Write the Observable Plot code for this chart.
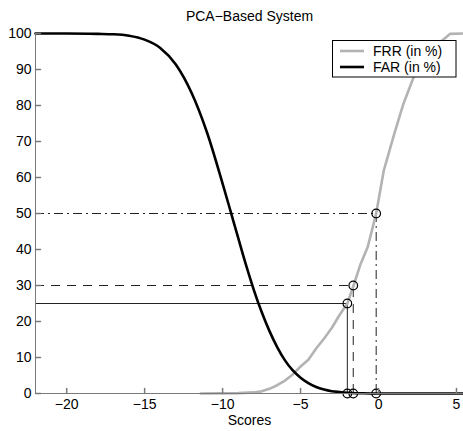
<!DOCTYPE html>
<html><head><meta charset="utf-8">
<script src="https://cdn.jsdelivr.net/npm/d3@7"></script>
<script src="https://cdn.jsdelivr.net/npm/@observablehq/plot@0.6"></script>
<style>
body{margin:0;background:#fff}
svg{font-family:"Liberation Sans",Arial,Helvetica,sans-serif}
</style>
</head><body><div id="chart"></div>
<script>
const titleText = "PCA\u2212Based System";
const xLabel = "Scores";
const xDomain = [-22, 5.45];
const yDomain = [0, 100];
const xTicks = [-20, -15, -10, -5, 0, 5];
const yTicks = [0, 10, 20, 30, 40, 50, 60, 70, 80, 90, 100];

// FAR curve (black)
const farX = [-22, -20, -18, -17, -16, -15, -14, -13, -12, -11, -10, -9.5, -9, -8.5, -8, -7.5, -7, -6.5, -6, -5.5, -5, -4.5, -4, -3.5, -3, -2.5, -2, -1, 0, 2, 5.45];
const farY = [100, 100, 99.9, 99.8, 99.4, 98.3, 96.0, 91.4, 83.6, 72.5, 58.3, 50.8, 43.2, 35.7, 28.8, 22.7, 17.4, 12.9, 9.2, 6.4, 4.4, 2.9, 1.8, 1.1, 0.65, 0.4, 0.2, 0.05, 0, 0, 0];

// FRR curve (gray)
const frrX = [-11.4, -9, -8, -7.5, -7, -6.5, -6, -5.5, -5, -4.5, -4, -3.5, -3, -2.5, -2, -1.6, -1.15, -0.7, -0.15, 0.34, 1.0, 1.6, 2.26, 2.9, 3.5, 4.2, 4.6, 5.45];
const frrY = [0, 0.1, 0.3, 0.6, 1.3, 2.3, 3.6, 5.3, 7.5, 9.4, 12.5, 15.2, 18.2, 21.8, 25, 30, 36, 40.6, 50, 62, 72, 80.5, 88, 93, 96, 98.5, 99.9, 100];

// operating points
const opX = [-2.0, -1.62, -0.15];
const opY = [25, 30, 50];
const opStyle = ["solid", "dashed", "dashdot"];

const legendLabels = ["FRR (in %)", "FAR (in %)"];
const legendColors = ["#b3b3b3", "#000000"];

const dashMap = {solid: null, dashed: "9,7", dashdot: "9,4,2,4"};
const axisColor = "#7a7a7a";
const fs = 14;

const far = farX.map((x, i) => ({x, y: farY[i]}));
const frr = frrX.map((x, i) => ({x, y: frrY[i]}));
const ops = opX.map((x, i) => ({x, y: opY[i], s: opStyle[i]}));

const tickShape = {draw(ctx, l) { ctx.moveTo(0, 0); ctx.lineTo(0, -l); }};
const fmt = d => d < 0 ? "\u2212" + Math.abs(d) : String(d);

const refMarks = [];
ops.forEach(o => {
  refMarks.push(Plot.ruleY([o], {y: "y", x1: xDomain[0], x2: "x", stroke: "#222", strokeWidth: 1, strokeDasharray: dashMap[o.s]}));
  refMarks.push(Plot.ruleX([o], {x: "x", y1: 0, y2: "y", stroke: "#222", strokeWidth: 1, strokeDasharray: dashMap[o.s]}));
});

const chart = Plot.plot({
  width: 463, height: 431,
  marginLeft: 35, marginRight: 0, marginTop: 33, marginBottom: 38,
  x: {domain: xDomain, axis: null},
  y: {domain: yDomain, axis: null},
  style: {fontFamily: '"Liberation Sans",Arial,Helvetica,sans-serif', fontSize: fs + "px", background: "#fff"},
  marks: [
    ...refMarks,
    Plot.line(frr, {x: "x", y: "y", stroke: legendColors[0], strokeWidth: 2.6}),
    Plot.line(far, {x: "x", y: "y", stroke: legendColors[1], strokeWidth: 2.6, curve: "monotone-x"}),
    Plot.dot(ops, {x: "x", y: "y", r: 4.3, stroke: "#000", strokeWidth: 1.2, fill: "none"}),
    Plot.dot(ops, {x: "x", y: 0, r: 4.3, stroke: "#000", strokeWidth: 1.2, fill: "none"}),
    Plot.ruleX([xDomain[0]], {stroke: axisColor, strokeWidth: 1}),
    Plot.ruleY([yDomain[0]], {stroke: axisColor, strokeWidth: 1}),
    Plot.vector(xTicks, {x: d => d, y: yDomain[0], length: 5, rotate: 0, anchor: "start", shape: tickShape, stroke: axisColor}),
    Plot.vector(yTicks, {y: d => d, x: xDomain[0], length: 5, rotate: 90, anchor: "start", shape: tickShape, stroke: axisColor}),
    Plot.axisX({ticks: xTicks, tickSize: 0, tickPadding: 6, tickFormat: fmt, fontSize: fs, fill: "#000", label: null}),
    Plot.axisY({ticks: yTicks, tickSize: 0, tickPadding: 4, tickFormat: fmt, fontSize: fs, fill: "#000", label: null}),
    Plot.text([titleText], {frameAnchor: "top", dy: -22, fontSize: fs, fill: "#000"}),
    Plot.text([xLabel], {frameAnchor: "bottom", dy: 31, fontSize: fs, fill: "#000"})
  ]
});

// legend
const svg = d3.select(chart);
const lg = svg.append("g").attr("text-anchor", "start");
lg.append("rect").attr("x", 332.5).attr("y", 40.5).attr("width", 123.5).attr("height", 36.5)
  .attr("fill", "#fff").attr("stroke", "#000").attr("stroke-width", 1);
legendLabels.forEach((lab, i) => {
  const cy = 51 + i * 16;
  lg.append("line").attr("x1", 340).attr("x2", 364).attr("y1", cy).attr("y2", cy)
    .attr("stroke", legendColors[i]).attr("stroke-width", 2.6);
  lg.append("text").attr("x", 373).attr("y", cy + 5).attr("font-size", fs).attr("fill", "#000").text(lab);
});

document.getElementById("chart").appendChild(chart);
</script>
</body></html>
